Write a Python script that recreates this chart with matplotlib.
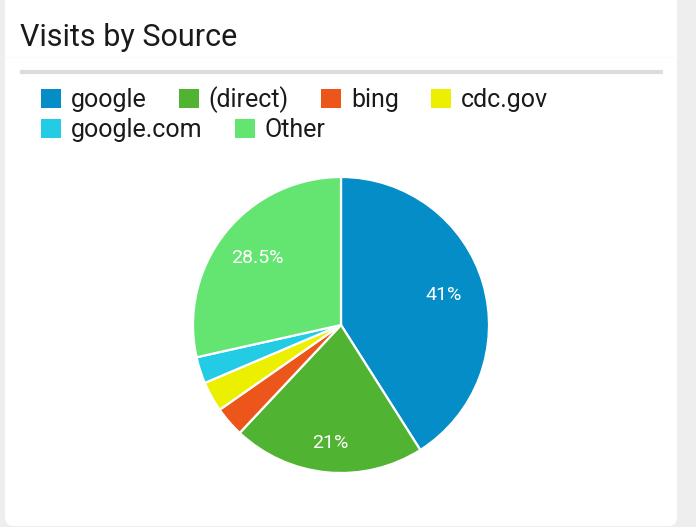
import matplotlib.pyplot as plt
from matplotlib.patches import FancyBboxPatch
import numpy as np

plt.rcParams['font.family'] = ['Roboto', 'DejaVu Sans']

sources = ["google", "(direct)", "bing", "cdc.gov", "google.com", "Other"]
share = [41.0, 21.0, 3.3, 3.3, 2.9, 28.5]
colors = ["#058dc7", "#50b432", "#ed561b", "#edef00", "#24cbe5", "#64e572"]
pct_labels = ["41%", "21%", "", "", "", "28.5%"]

W, H = 696, 527
fig = plt.figure(figsize=(W / 100, H / 100), dpi=100)
fig.patch.set_facecolor("#eeeeee")

# background card, drawn in pixel coordinates
bg = fig.add_axes([0, 0, 1, 1])
bg.set_xlim(0, W)
bg.set_ylim(H, 0)
bg.axis("off")
card = FancyBboxPatch((5, -10), 672, 536, boxstyle="round,pad=0,rounding_size=9",
                      fc="white", ec="none")
bg.add_patch(card)
bg.plot([5, 677], [57, 57], color="#fafafa", lw=1)
bg.plot([20, 663], [72, 72], color="#dcdcdc", lw=3, solid_capstyle="butt")
bg.text(20, 46, "Visits by Source", fontsize=22, color="#1a1a1a", va="baseline")

# pie
cx, cy, r = 341, 325, 148
half = 152
ax = fig.add_axes([(cx - half) / W, (H - cy - half) / H, 2 * half / W, 2 * half / H])
wedges, _ = ax.pie(share, colors=colors, startangle=90, counterclock=False,
                   radius=1, wedgeprops=dict(edgecolor="white", linewidth=1.6))
lim = half / r
ax.set_xlim(-lim, lim)
ax.set_ylim(-lim, lim)
ax.set_aspect("equal")

# percentage labels
dist = [0.72, 0.80, 0.7, 0.7, 0.7, 0.72]
start = 90.0
for i, v in enumerate(share):
    mid = np.deg2rad(start - v / 100 * 360 / 2)
    start -= v / 100 * 360
    if pct_labels[i]:
        ax.text(dist[i] * np.cos(mid), dist[i] * np.sin(mid), pct_labels[i],
                color="white", fontsize=14, ha="center", va="center")

# legend: two flowing rows
rows = [(wedges[:4], sources[:4], 100), (wedges[4:], sources[4:], 130)]
for hs, labs, ypix in rows:
    leg = fig.legend(hs, labs, loc="center left", bbox_to_anchor=(41 / W, 1 - ypix / H),
                     ncol=len(hs), frameon=False, fontsize=18, borderpad=0,
                     borderaxespad=0, handlelength=0.8, handleheight=0.8,
                     handletextpad=0.4, columnspacing=1.28, labelcolor="#1a1a1a")
    for h in leg.legend_handles:
        h.set_edgecolor("none")

fig.savefig("out.png", dpi=100, facecolor=fig.get_facecolor())
